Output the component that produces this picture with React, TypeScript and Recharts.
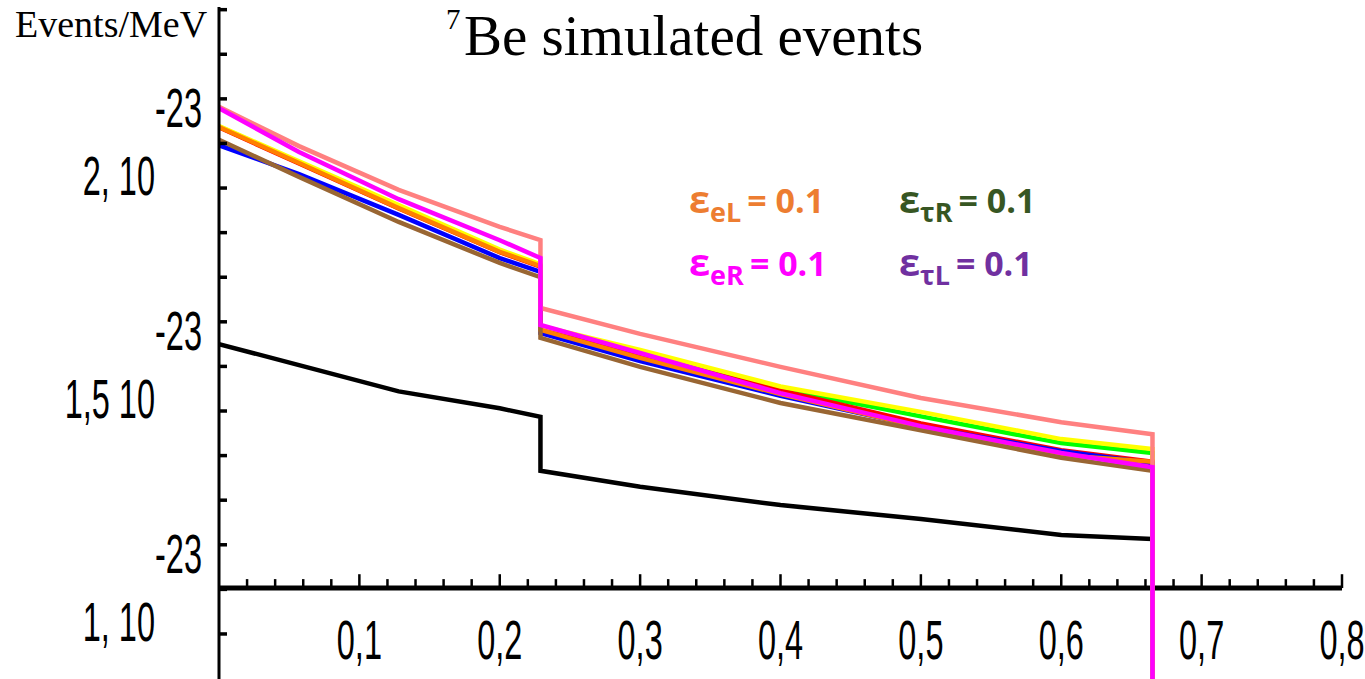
import { LineChart, Line, XAxis, YAxis, ReferenceLine } from 'recharts';

// energy (MeV) – the edge at 0.229 and the end point at 0.665 appear twice (vertical steps)
const energy = [0, 0.057, 0.128, 0.2, 0.229, 0.229, 0.3, 0.4, 0.5, 0.6, 0.665, 0.665];

// events/MeV in units of 1e-23
const black = [1.65, 1.603, 1.544, 1.506, 1.487, 1.366, 1.33, 1.289, 1.258, 1.222, 1.213, 1.213];
const green = [2.138, 2.057, 1.957, 1.858, 1.826, 1.69, 1.632, 1.55, 1.488, 1.428, 1.406, 0];
const red = [2.136, 2.055, 1.954, 1.856, 1.824, 1.688, 1.626, 1.546, 1.472, 1.412, 1.386, 0];
const yellow = [2.139, 2.06, 1.962, 1.862, 1.829, 1.691, 1.637, 1.555, 1.498, 1.437, 1.415, 0];
const blue = [2.096, 2.031, 1.94, 1.843, 1.812, 1.675, 1.612, 1.534, 1.465, 1.41, 1.383, 0];
const orange = [2.137, 2.056, 1.955, 1.857, 1.825, 1.682, 1.619, 1.538, 1.464, 1.401, 1.386, 0];
const brown = [2.108, 2.025, 1.924, 1.832, 1.8, 1.664, 1.599, 1.518, 1.457, 1.395, 1.366, 0];
const pink = [2.182, 2.094, 1.996, 1.913, 1.883, 1.731, 1.673, 1.599, 1.529, 1.475, 1.448, 0];
const magenta = [2.179, 2.081, 1.975, 1.883, 1.843, 1.693, 1.63, 1.54, 1.466, 1.406, 1.374, 0];

const yTicks = [1.0, 1.1, 1.2, 1.3, 1.4, 1.5, 1.6, 1.7, 1.8, 1.9, 2.0, 2.1, 2.2, 2.3, 2.4];
const yTickText: Record<string, string> = { '1': '1, 10', '1.5': '1,5 10', '2': '2, 10' };
const xMajor = [0.1, 0.2, 0.3, 0.4, 0.5, 0.6, 0.7, 0.8];
const xMajorText = ['0,1', '0,2', '0,3', '0,4', '0,5', '0,6', '0,7', '0,8'];
const X_AXIS_AT = 1.103;

const xMinor: number[] = [];
for (let i = 1; i < 40; i++) {
  if (i % 5 !== 0) xMinor.push(+(i * 0.02).toFixed(2));
}

const series = [
  { key: 'black', color: '#000000', values: black },
  { key: 'green', color: '#00FF00', values: green },
  { key: 'red', color: '#FF0000', values: red },
  { key: 'yellow', color: '#FFFF00', values: yellow },
  { key: 'blue', color: '#0000FF', values: blue },
  { key: 'orange', color: '#FF8000', values: orange },
  { key: 'brown', color: '#996633', values: brown },
  { key: 'pink', color: '#FF8080', values: pink },
  { key: 'magenta', color: '#FF00FF', values: magenta },
];

const rows = energy.map((x, i) => {
  const row: Record<string, number> = { x };
  series.forEach((s) => (row[s.key] = s.values[i]));
  return row;
});

const legendItems = [
  { sub: 'eL', color: '#ED7D31', x: 689, y: 213 },
  { sub: 'τR', color: '#375623', x: 899, y: 213 },
  { sub: 'eR', color: '#FF00FF', x: 689, y: 276 },
  { sub: 'τL', color: '#7030A0', x: 899, y: 276 },
];

const tickFont = '"Liberation Sans", Arial, sans-serif';
const serifFont = '"Liberation Serif", "Times New Roman", serif';

const YTick = (props: any) => {
  const { x, y, payload } = props;
  const label = yTickText[String(payload.value)];
  return (
    <g>
      <line x1={x} y1={y} x2={x + 8} y2={y} stroke="#000" strokeWidth={3.5} />
      {label && (
        <>
          <text transform={`translate(${x - 64},${y + 7}) scale(0.58,1)`} textAnchor="end" fontFamily={tickFont} fontSize={56} fill="#000">
            {label}
          </text>
          <text transform={`translate(${x - 17},${y - 61}) scale(0.58,1)`} textAnchor="end" fontFamily={tickFont} fontSize={56} fill="#000">
            -23
          </text>
        </>
      )}
    </g>
  );
};

const XTickLabel = (props: any) => {
  const { viewBox, text } = props;
  if (!viewBox) return null;
  const cx = viewBox.x + (viewBox.width || 0) / 2;
  const base = viewBox.y + (viewBox.height || 0);
  return (
    <text transform={`translate(${cx},${base + 71}) scale(0.58,1)`} textAnchor="middle" fontFamily={tickFont} fontSize={56} fill="#000">
      {text}
    </text>
  );
};

export default function App() {
  return (
    <div style={{ position: 'absolute', left: 0, top: 0, width: 1365, height: 679, background: '#fff' }}>
      <LineChart width={1365} height={679} data={rows} margin={{ top: 7, right: 23, left: 0, bottom: 0 }}>
        <XAxis type="number" dataKey="x" domain={[0, 0.8]} allowDataOverflow hide />
        <YAxis
          type="number"
          domain={[0.899, 2.406]}
          allowDataOverflow
          ticks={yTicks}
          interval={0}
          width={219}
          axisLine={{ stroke: '#000', strokeWidth: 3 }}
          tickLine={false}
          tickSize={0}
          tickMargin={0}
          tick={<YTick />}
        />
        <ReferenceLine y={X_AXIS_AT} stroke="#000" strokeWidth={5} />
        {xMinor.map((t) => (
          <ReferenceLine
            key={`mi${t}`}
            segment={[{ x: t, y: X_AXIS_AT }, { x: t, y: X_AXIS_AT + 0.02 }]}
            stroke="#000"
            strokeWidth={2.5}
          />
        ))}
        {xMajor.map((t, i) => (
          <ReferenceLine
            key={`ma${t}`}
            segment={[{ x: t, y: X_AXIS_AT }, { x: t, y: X_AXIS_AT + 0.031 }]}
            stroke="#000"
            strokeWidth={2.5}
            label={<XTickLabel text={xMajorText[i]} />}
          />
        ))}
        {series.map((s) => (
          <Line
            key={s.key}
            type="linear"
            dataKey={s.key}
            stroke={s.color}
            strokeWidth={4.5}
            dot={false}
            activeDot={false}
            isAnimationActive={false}
          />
        ))}
      </LineChart>
      <svg width={1365} height={679} style={{ position: 'absolute', left: 0, top: 0, pointerEvents: 'none' }}>
        <text x={15} y={37} fontFamily={serifFont} fontSize={38} fill="#000">
          Events/MeV
        </text>
        <text fontFamily={serifFont} fill="#000">
          <tspan x={446} y={29} fontSize={29}>7</tspan>
          <tspan x={464} y={55} fontSize={57}>Be simulated events</tspan>
        </text>
        {legendItems.map((it) => (
          <text key={it.sub} x={it.x} y={it.y} fill={it.color} fontFamily='"Open Sans", "Noto Sans", sans-serif' fontWeight={700}>
            <tspan fontSize={38}>ε</tspan>
            <tspan fontSize={27} dy={9}>{it.sub}</tspan>
            <tspan fontSize={34} dy={-9} dx={6}>= 0.1</tspan>
          </text>
        ))}
      </svg>
    </div>
  );
}
